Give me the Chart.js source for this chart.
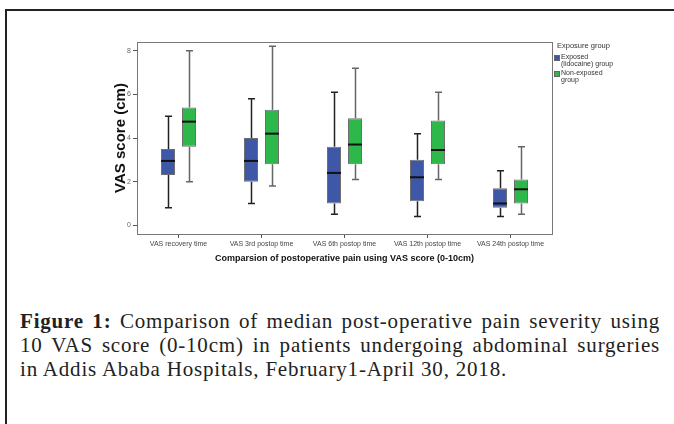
<!DOCTYPE html>
<html lang="en">
<head>
  <meta charset="UTF-8" />
  <title>VAS score box plot</title>
  <style>
    body {
      margin: 0;
      width: 674px;
      height: 424px;
      background: #fff;
      position: relative;
      overflow: hidden;
      font-family: Arial, "Liberation Sans", sans-serif;
    }
    #frame {
      position: absolute;
      left: 5px;
      top: 9px;
      width: 700px;
      height: 500px;
      border-top: 2px solid #222;
      border-left: 2px solid #222;
    }
    #chartBox {
      position: absolute;
      left: 0;
      top: 0;
    }
    #legend {
      position: absolute;
      left: 554px;
      top: 42px;
      color: #333;
      font-size: 7px;
      line-height: 7px;
    }
    #legend .lt { margin-left: 3px; font-size: 7.5px; margin-bottom: 4px; }
    #legend .li { display: flex; align-items: flex-start; margin-bottom: 2px; }
    #legend .sw {
      width: 6px; height: 6px; margin-top: 2px; margin-right: 1px;
      border: 1px solid #666; box-sizing: border-box;
    }
    #caption {
      position: absolute;
      left: 20px;
      top: 309px;
      width: 640px;
      font-family: "Liberation Serif", "Times New Roman", serif;
      font-size: 21px;
      letter-spacing: 0.8px;
      line-height: 24px;
      color: #222;
    }
    #caption div { white-space: nowrap; }
    #caption .j { text-align: justify; text-align-last: justify; white-space: normal; }
  </style>
</head>
<body>
  <div id="frame"></div>
  <div id="chartBox">
    <canvas id="vasChart" width="674" height="270"></canvas>
  </div>
  <div id="legend">
    <div class="lt">Exposure group</div>
    <div class="li"><span class="sw" style="background:#3F57A7"></span><span>Exposed<br>(lidocaine) group</span></div>
    <div class="li"><span class="sw" style="background:#2EB84B"></span><span>Non-exposed<br>group</span></div>
  </div>
  <div id="caption">
    <div class="j"><b>Figure 1:</b> Comparison of median post-operative pain severity using</div>
    <div class="j">10 VAS score (0-10cm) in patients undergoing abdominal surgeries</div>
    <div>in Addis Ababa Hospitals, February1-April 30, 2018.</div>
  </div>

  <script src="https://cdn.jsdelivr.net/npm/chart.js"></script>
  <script>
    const categories = ['VAS recovery time', 'VAS 3rd postop time', 'VAS 6th postop time', 'VAS 12th postop time', 'VAS 24th postop time'];

    // Exposed (lidocaine) group
    const exposedMin    = [0.8, 1.0, 0.5, 0.4, 0.4];
    const exposedQ1     = [2.3, 2.0, 1.0, 1.1, 0.8];
    const exposedMedian = [2.95, 2.95, 2.4, 2.2, 1.0];
    const exposedQ3     = [3.5, 4.0, 3.6, 3.0, 1.7];
    const exposedMax    = [5.0, 5.8, 6.1, 4.2, 2.5];

    // Non-exposed group
    const nonMin    = [2.0, 1.8, 2.1, 2.1, 0.5];
    const nonQ1     = [3.6, 2.8, 2.8, 2.8, 1.0];
    const nonMedian = [4.75, 4.2, 3.7, 3.45, 1.65];
    const nonQ3     = [5.4, 5.3, 4.9, 4.8, 2.1];
    const nonMax    = [8.0, 8.2, 7.2, 6.1, 3.6];

    const yTicks = [0, 2, 4, 6, 8];

    const groups = [
      { min: exposedMin, med: exposedMedian, max: exposedMax, whisker: '#222' },
      { min: nonMin, med: nonMedian, max: nonMax, whisker: '#666' }
    ];

    // whiskers behind the boxes, medians and the plot frame on top
    const boxExtras = {
      id: 'boxExtras',
      beforeDatasetsDraw(chart) {
        const ctx = chart.ctx, y = chart.scales.y;
        ctx.save();
        ctx.lineWidth = 1.5;
        groups.forEach((g, di) => {
          const ds = chart.data.datasets[di];
          chart.getDatasetMeta(di).data.forEach((bar, i) => {
            const x = Math.round(bar.x) + 0.5;
            const yMin = y.getPixelForValue(g.min[i]);
            const yMax = y.getPixelForValue(g.max[i]);
            ctx.strokeStyle = g.whisker;
            ctx.beginPath();
            ctx.moveTo(x, yMax);
            ctx.lineTo(x, y.getPixelForValue(ds.data[i][1]));
            ctx.moveTo(x, y.getPixelForValue(ds.data[i][0]));
            ctx.lineTo(x, yMin);
            ctx.moveTo(x - 3.5, yMax);
            ctx.lineTo(x + 3.5, yMax);
            ctx.moveTo(x - 3.5, yMin);
            ctx.lineTo(x + 3.5, yMin);
            ctx.stroke();
          });
        });
        ctx.restore();
      },
      afterDatasetsDraw(chart) {
        const ctx = chart.ctx, y = chart.scales.y, a = chart.chartArea;
        ctx.save();
        ctx.lineWidth = 2;
        ctx.strokeStyle = '#111';
        groups.forEach((g, di) => {
          chart.getDatasetMeta(di).data.forEach((bar, i) => {
            const ym = y.getPixelForValue(g.med[i]);
            ctx.beginPath();
            ctx.moveTo(bar.x - bar.width / 2, ym);
            ctx.lineTo(bar.x + bar.width / 2, ym);
            ctx.stroke();
          });
        });
        ctx.lineWidth = 1;
        ctx.strokeStyle = '#777';
        ctx.strokeRect(Math.round(a.left) + 0.5, Math.round(a.top) + 0.5, Math.round(a.right - a.left), Math.round(a.bottom - a.top));
        ctx.restore();
      }
    };

    const ctx = document.getElementById('vasChart').getContext('2d');
    new Chart(ctx, {
      type: 'bar',
      data: {
        labels: categories,
        datasets: [
          {
            label: 'Exposed (lidocaine) group',
            data: categories.map((c, i) => [exposedQ1[i], exposedQ3[i]]),
            backgroundColor: '#3F57A7',
            borderColor: '#6f6f6f',
            borderWidth: 1,
            borderSkipped: false
          },
          {
            label: 'Non-exposed group',
            data: categories.map((c, i) => [nonQ1[i], nonQ3[i]]),
            backgroundColor: '#2EB84B',
            borderColor: '#6f6f6f',
            borderWidth: 1,
            borderSkipped: false
          }
        ]
      },
      options: {
        responsive: false,
        animation: false,
        devicePixelRatio: 1,
        categoryPercentage: 0.506,
        barPercentage: 0.667,
        layout: { padding: { left: 108, top: 42, right: 122, bottom: 6 } },
        plugins: {
          legend: { display: false },
          tooltip: { enabled: false }
        },
        scales: {
          x: {
            grid: { offset: false, drawOnChartArea: false, tickLength: 4, color: '#555' },
            border: { color: '#444' },
            ticks: { color: '#444', font: { size: 7, family: 'Arial' }, padding: 2, maxRotation: 0 },
            title: {
              display: true,
              text: 'Comparsion of postoperative pain using VAS score (0-10cm)',
              color: '#111',
              font: { size: 9, weight: 'bold', family: 'Arial' },
              padding: { top: 2, bottom: 0 }
            },
            afterFit(scale) { scale.height = 30; }
          },
          y: {
            min: -0.4,
            max: 8.4,
            afterBuildTicks(scale) { scale.ticks = yTicks.map(v => ({ value: v })); },
            grid: { drawOnChartArea: false, tickLength: 4, color: '#555' },
            border: { color: '#444' },
            ticks: { color: '#666', font: { size: 7, family: 'Arial' }, padding: 2 },
            title: {
              display: true,
              text: 'VAS score (cm)',
              color: '#111',
              font: { size: 15, weight: 'bold', family: 'Arial' }
            },
            afterFit(scale) { scale.width = 29; }
          }
        }
      },
      plugins: [boxExtras]
    });
  </script>
</body>
</html>
